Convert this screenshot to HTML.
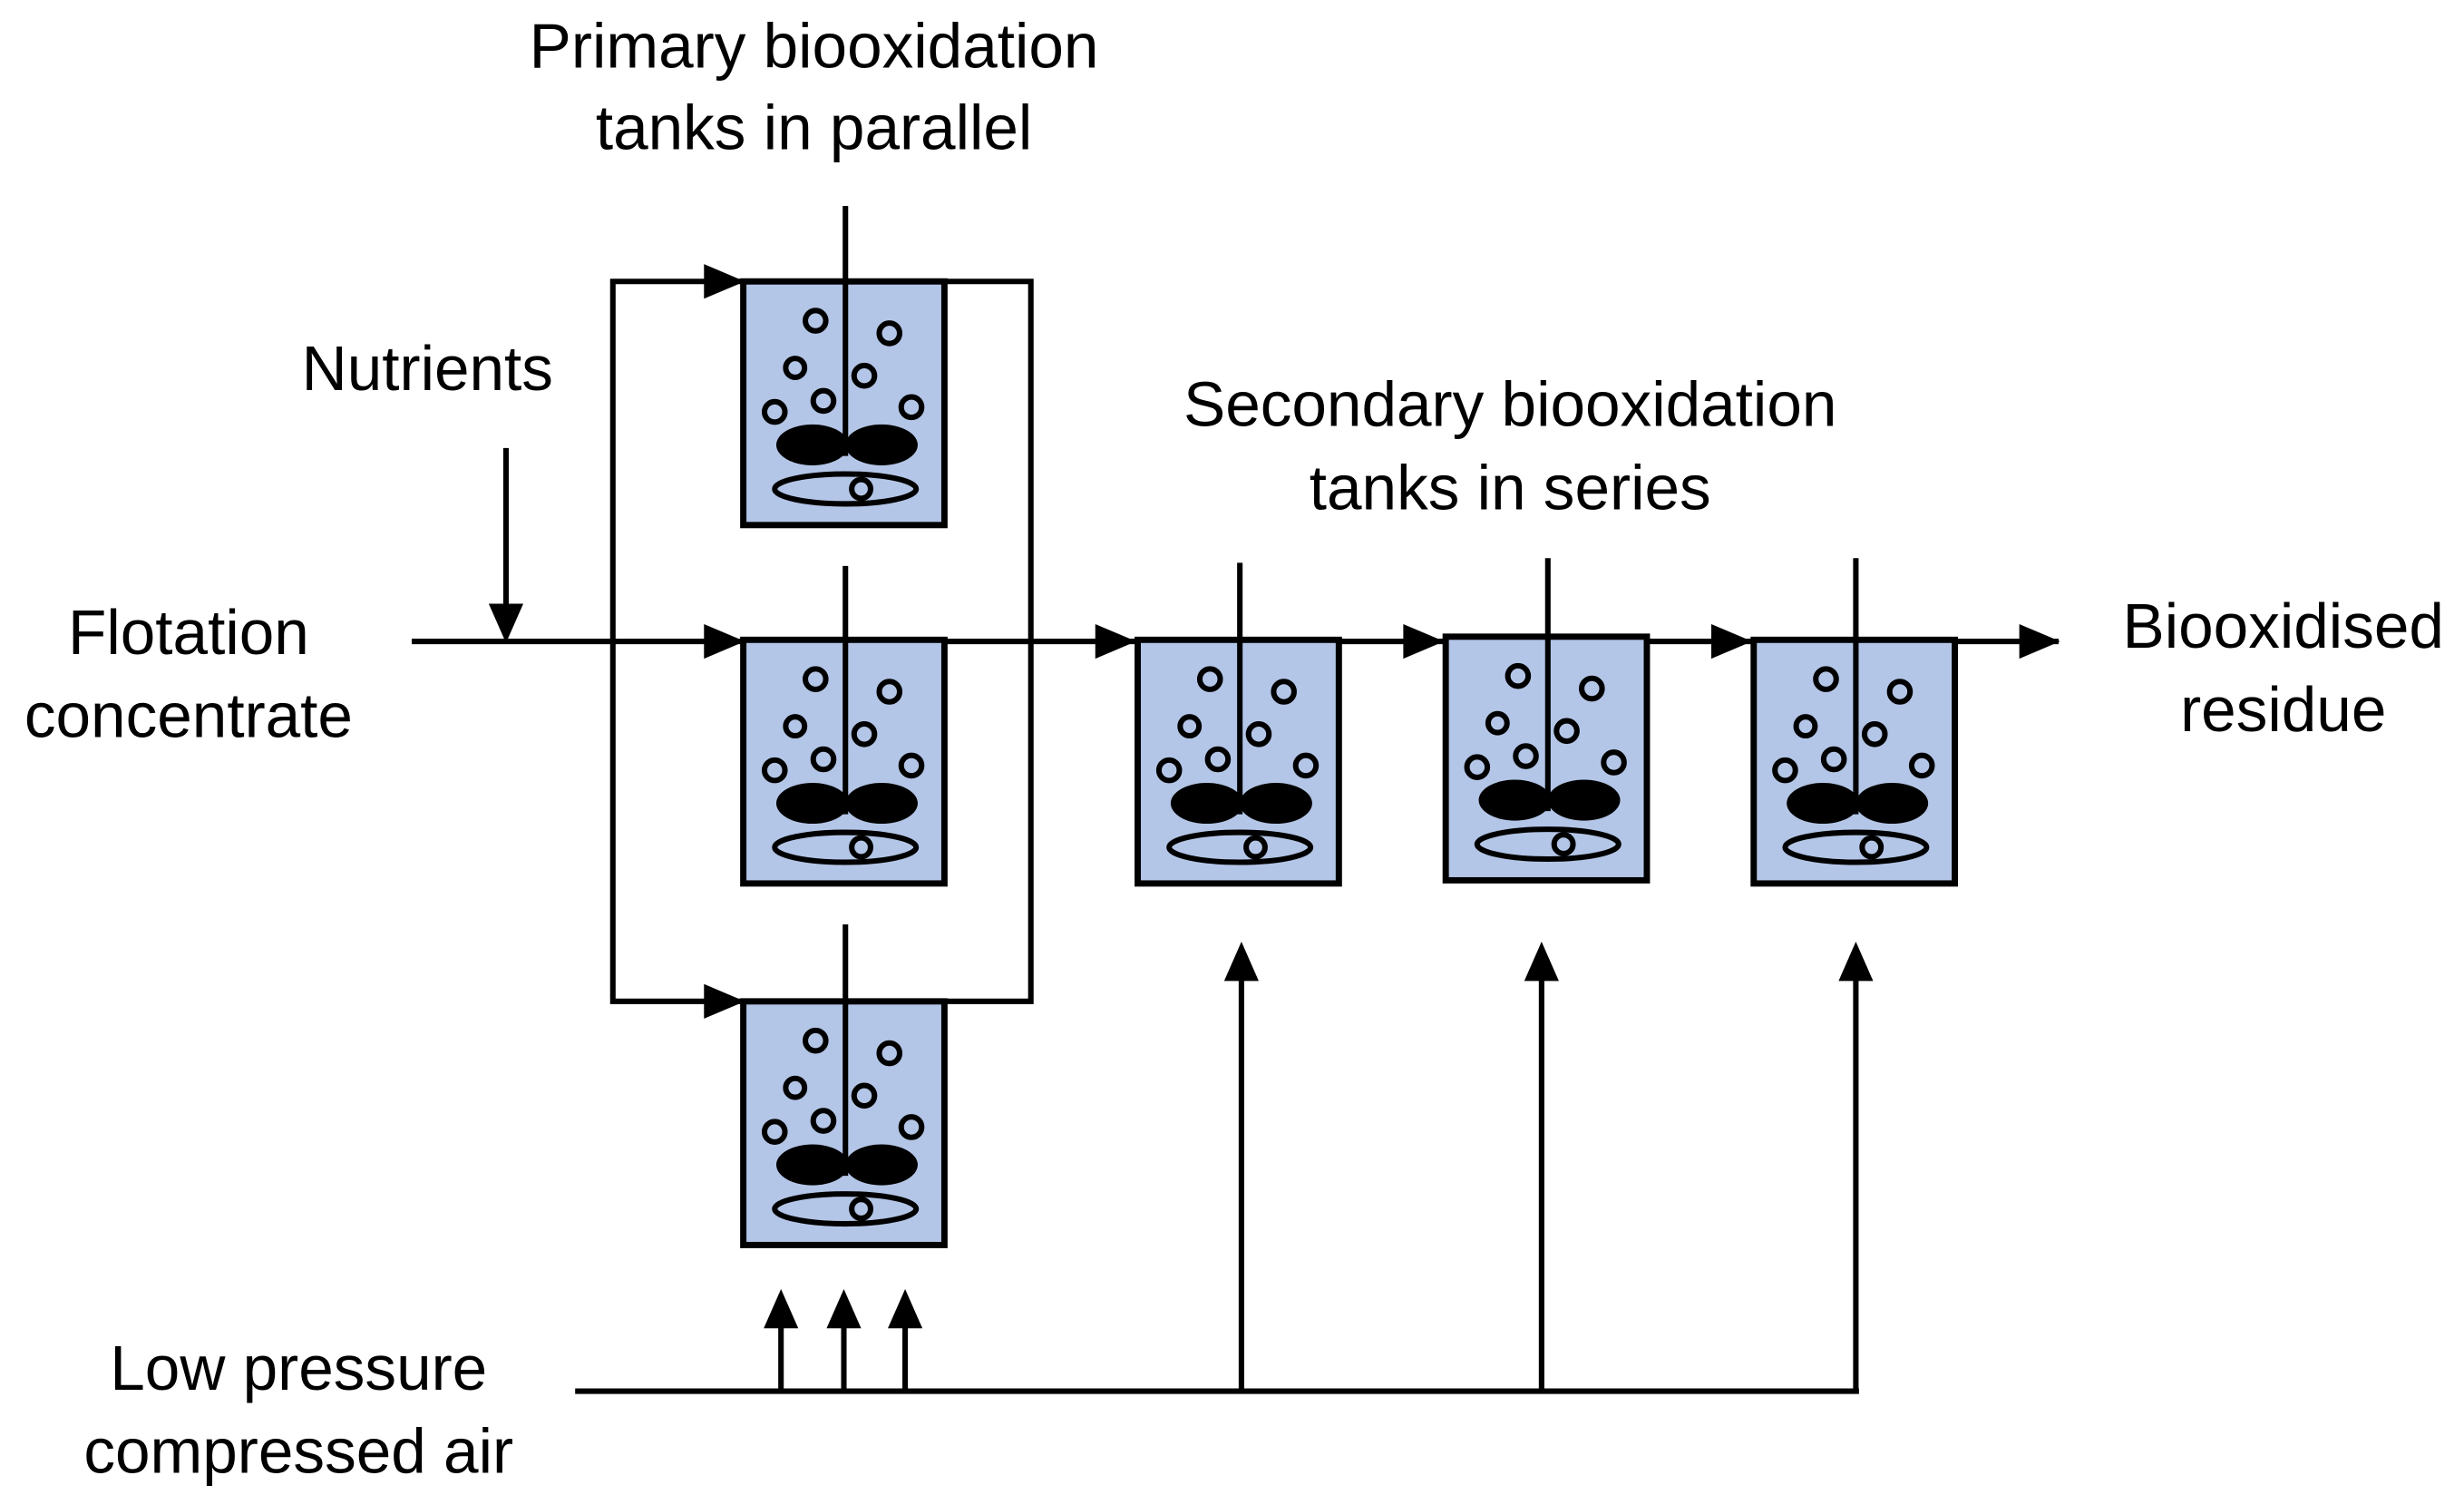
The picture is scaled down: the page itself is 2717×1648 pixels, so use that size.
<!DOCTYPE html>
<html><head><meta charset="utf-8"><style>html,body{margin:0;padding:0;background:#fff}svg{display:block}</style></head><body>
<svg width="2717" height="1648" viewBox="0 0 1568 951" xmlns="http://www.w3.org/2000/svg">
<defs>
<g id="tank">
<rect x="0" y="0" width="128" height="155" fill="#b4c6e7" stroke="#000" stroke-width="4"/>
<g fill="none" stroke="#000" stroke-width="3.5">
<circle cx="46" cy="25" r="6.5"/><circle cx="93" cy="33" r="6.5"/><circle cx="33" cy="55" r="6"/><circle cx="77" cy="60" r="6.5"/><circle cx="51" cy="76" r="6.5"/><circle cx="20" cy="83" r="6.5"/><circle cx="107" cy="80" r="6.5"/>
<ellipse cx="65" cy="132" rx="45" ry="9.5" stroke-width="3.5"/>
<circle cx="75" cy="132" r="6"/>
</g>
<ellipse cx="44" cy="104" rx="23" ry="13"/><ellipse cx="88" cy="104" rx="23" ry="13"/>
</g>
</defs>
<g stroke="#000" stroke-width="3.5" fill="none">
<line x1="262" y1="408" x2="1310" y2="408"/>
<polyline points="472,179 390,179 390,637 472,637"/>
<polyline points="601,179 656,179 656,637 601,637"/>
<line x1="322" y1="285" x2="322" y2="400"/>
<line x1="366" y1="885" x2="1183" y2="885"/>
<line x1="497" y1="885" x2="497" y2="830"/><line x1="537" y1="885" x2="537" y2="830"/><line x1="576" y1="885" x2="576" y2="830"/>
<line x1="790" y1="885" x2="790" y2="610"/><line x1="981" y1="885" x2="981" y2="610"/><line x1="1181" y1="885" x2="1181" y2="610"/>
</g>
<use href="#tank" x="473" y="179"/><use href="#tank" x="473" y="407"/><use href="#tank" x="473" y="637"/>
<use href="#tank" x="724" y="407"/><use href="#tank" x="920" y="405"/><use href="#tank" x="1116" y="407"/>
<g stroke="#000" stroke-width="3.5">
<line x1="538" y1="131" x2="538" y2="290"/><line x1="538" y1="360" x2="538" y2="518"/><line x1="538" y1="588" x2="538" y2="748"/>
<line x1="789" y1="358" x2="789" y2="518"/><line x1="985" y1="355" x2="985" y2="516"/><line x1="1181" y1="355" x2="1181" y2="518"/>
</g>
<g fill="#000">
<path d="M448,168 L474,179 L448,190z"/><path d="M448,397 L474,408 L448,419z"/><path d="M448,626 L474,637 L448,648z"/>
<path d="M697,397 L723,408 L697,419z"/><path d="M893,397 L919,408 L893,419z"/><path d="M1089,397 L1115,408 L1089,419z"/><path d="M1285,397 L1311,408 L1285,419z"/>
<path d="M311,384 L322,409 L333,384z"/>
<path d="M486,845 L497,820 L508,845z"/><path d="M526,845 L537,820 L548,845z"/><path d="M565,845 L576,820 L587,845z"/>
<path d="M779,624 L790,599 L801,624z"/><path d="M970,624 L981,599 L992,624z"/><path d="M1170,624 L1181,599 L1192,624z"/>
</g>
<g font-family="Liberation Sans, Arial, sans-serif" font-size="40" fill="#000" text-anchor="middle">
<text x="518" y="43">Primary biooxidation</text><text x="518" y="95">tanks in parallel</text>
<text x="272" y="248">Nutrients</text>
<text x="120" y="416">Flotation</text><text x="120" y="469">concentrate</text>
<text x="961" y="271">Secondary biooxidation</text><text x="961" y="324">tanks in series</text>
<text x="1453" y="412">Biooxidised</text><text x="1453" y="465">residue</text>
<text x="190" y="884">Low pressure</text><text x="190" y="937">compressed air</text>
</g>
</svg>
</body></html>
